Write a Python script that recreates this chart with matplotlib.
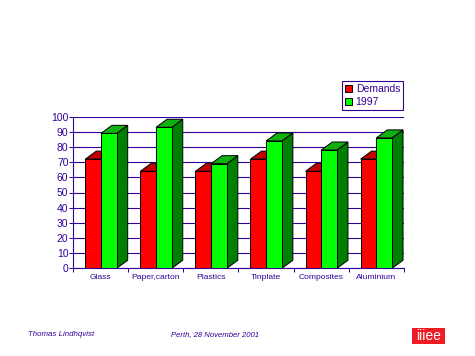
import matplotlib
matplotlib.use("Agg")
import matplotlib.pyplot as plt
from matplotlib.patches import Polygon, Rectangle
import numpy as np

categories = ["Glass", "Paper,carton", "Plastics", "Tinplate", "Composites", "Aluminium"]
demands = [72, 64, 64, 72, 64, 72]
y1997 = [89, 93, 69, 84, 78, 86]

INK = "#330099"
W, H = 475, 356
plt.rcParams["font.family"] = ["Liberation Sans", "DejaVu Sans"]

fig = plt.figure(figsize=(W / 100, H / 100), dpi=100, facecolor="white")
ax = fig.add_axes([73.3 / W, (H - 268.3) / H, 330.4 / W, 151.6 / H])
ax.set_xlim(0, 6)
ax.set_ylim(0, 100)

# 3d look: fixed offset of the back face, in data units
dx, dy = 0.2, 5.3
bw = 0.285
x = np.arange(len(categories)) + 0.5


def box(xc, val, front, top, side):
    left = xc - bw / 2
    right = xc + bw / 2
    ax.add_patch(Polygon([(right, 0), (right + dx, dy), (right + dx, val + dy), (right, val)],
                         fc=side, ec="black", lw=0.72, zorder=3, clip_on=False))
    ax.add_patch(Polygon([(left, val), (left + dx, val + dy), (right + dx, val + dy), (right, val)],
                         fc=top, ec="black", lw=0.72, zorder=3, clip_on=False))
    ax.add_patch(Rectangle((left, 0), bw, val, fc=front, ec="black", lw=0.72, zorder=3))


for xc, d, g in zip(x, demands, y1997):
    box(xc - 0.14, d, "#ff0000", "#c00000", "#800000")
    box(xc + 0.145, g, "#00ff00", "#10b010", "#008000")

ax.set_yticks(range(0, 101, 10))
ax.yaxis.grid(True, color=INK, lw=0.8, zorder=1)
ax.set_axisbelow(True)
ax.set_xticks(range(7))
ax.set_xticklabels([])
ax.set_xticks(x, minor=True)
ax.set_xticklabels(categories, minor=True, fontsize=6.1, color=INK)
ax.tick_params(axis="x", which="minor", length=0, pad=4)
ax.tick_params(axis="x", which="major", length=3, width=0.72, color=INK)
ax.tick_params(axis="y", length=3, width=0.72, color=INK, labelcolor=INK, labelsize=7.5, pad=0.5)
for name, s in ax.spines.items():
    s.set_visible(name in ("left", "bottom"))
    s.set_color(INK)
    s.set_linewidth(0.8)

handles = [Rectangle((0, 0), 1, 1, fc="#ff0000", ec="black", lw=0.72),
           Rectangle((0, 0), 1, 1, fc="#00ff00", ec="black", lw=0.72)]
leg = fig.legend(handles, ["Demands", "1997"], loc="upper left",
                 bbox_to_anchor=(342.3 / W, (H - 81) / H), fontsize=7.5, labelcolor=INK,
                 fancybox=False, framealpha=1, edgecolor=INK, borderpad=0.28,
                 handlelength=0.65, handleheight=0.65, handletextpad=0.35, labelspacing=0.3,
                 borderaxespad=0)
leg.get_frame().set_linewidth(0.8)

fig.text(28 / W, (H - 335) / H, "Thomas Lindhqvist", fontsize=5.7, style="italic", color=INK, va="center")
fig.text(171 / W, (H - 335) / H, "Perth, 28 November 2001", fontsize=5.6, style="italic", color=INK, va="center")

# iiiee logo
fig.patches.append(Rectangle((412 / W, (H - 344) / H), 33 / W, 16 / H, transform=fig.transFigure, fc="#ee1c25", ec="none"))
fig.text(428.5 / W, (H - 336) / H, "iiiee", fontsize=10, color="white", ha="center", va="center")

fig.savefig("out.png", dpi=100)
